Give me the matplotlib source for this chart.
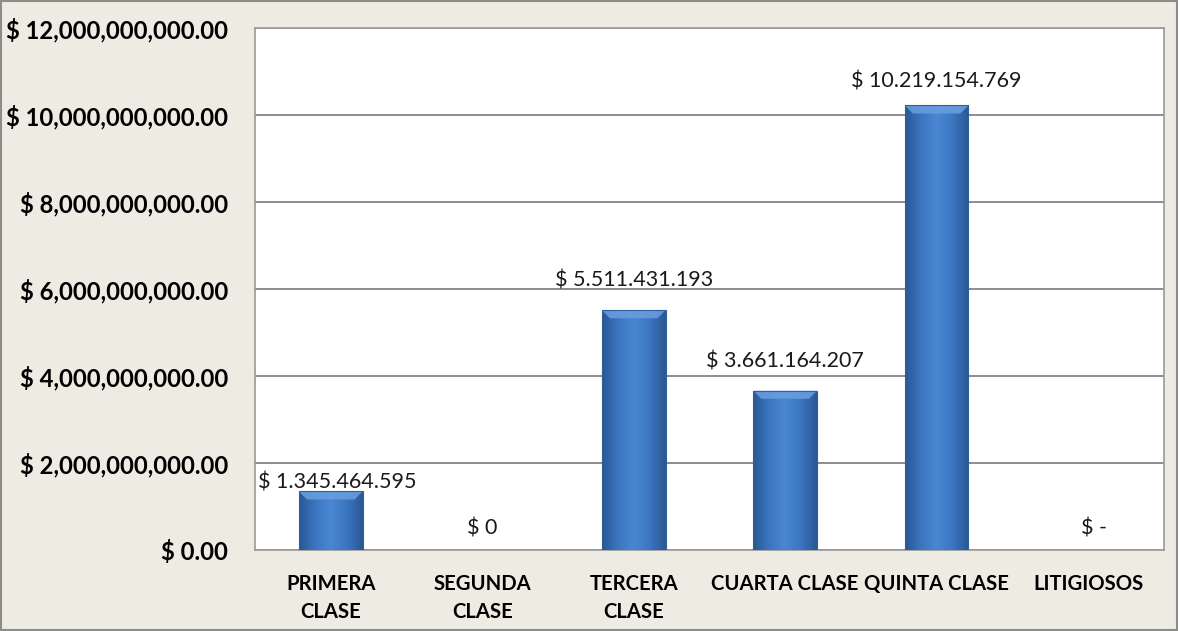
import numpy as np
import matplotlib.pyplot as plt
from matplotlib.colors import LinearSegmentedColormap
from matplotlib.ticker import FuncFormatter

categories = ['PRIMERA\nCLASE', 'SEGUNDA\nCLASE', 'TERCERA\nCLASE',
              'CUARTA CLASE', 'QUINTA CLASE', 'LITIGIOSOS']
values = [1345464595, 0, 5511431193, 3661164207, 10219154769, 0]
value_labels = ['$ 1.345.464.595', '$ 0', '$ 5.511.431.193',
                '$ 3.661.164.207', '$ 10.219.154.769', '$ -']
yticks = [0, 2e9, 4e9, 6e9, 8e9, 10e9, 12e9]

plt.rcParams['font.family'] = ['Lato', 'DejaVu Sans']

bg = '#EEEBE2'
fig = plt.figure(figsize=(11.78, 6.31), dpi=100, facecolor=bg)
ax = fig.add_axes([0.2165, 0.1284, 0.7715, 0.8272])
ax.set_facecolor('white')

x = np.arange(len(categories))
bars = ax.bar(x, values, width=0.42, color='none', zorder=3)

ax.set_xlim(-0.5, len(categories) - 0.5)
ax.set_ylim(0, 12e9)

# size of the top bevel in data units (about 8 px)
p0 = ax.transData.inverted().transform((0, 0))
p1 = ax.transData.inverted().transform((8, 8))
bx, by = p1 - p0

# horizontal gradient, darker at the edges, lighter in the middle
cmap = LinearSegmentedColormap.from_list(
    'bar', ['#2A5894', '#3C76C2', '#4A86D2', '#3C76C2', '#2A5894'])
grad = np.linspace(0, 1, 64).reshape(1, -1)
for b in bars:
    if b.get_height() <= 0:
        continue
    x0, w, h = b.get_x(), b.get_width(), b.get_height()
    im = ax.imshow(grad, cmap=cmap, aspect='auto', zorder=3,
                   extent=[x0, x0 + w, 0, h], interpolation='bicubic')
    im.set_clip_path(b)
    ax.add_patch(plt.Polygon([(x0, h), (x0 + w, h), (x0 + w - bx, h - by),
                              (x0 + bx, h - by)], closed=True,
                             fc='#6A9FE0', ec='none', alpha=0.85, zorder=4))
    ax.add_patch(plt.Rectangle((x0, 0), w, h, fill=False,
                               ec='#2F5F9C', lw=0.8, zorder=5))

ax.set_yticks(yticks)
ax.yaxis.set_major_formatter(FuncFormatter(lambda v, p: f'$ {v:,.2f}'))
ax.grid(axis='y', color='#8C8C8C', lw=1.4, zorder=1)
ax.set_axisbelow(True)

ax.set_xticks(x)
ax.set_xticklabels(categories, fontweight='bold', fontsize=14.6,
                   linespacing=1.5, va='top')
for lbl in ax.get_yticklabels():
    lbl.set_fontweight('bold')
    lbl.set_fontsize(17.2)
ax.tick_params(axis='both', length=0)
ax.tick_params(axis='x', pad=17)
ax.tick_params(axis='y', pad=19.5)

for s in ax.spines.values():
    s.set_color('#9A9A9A')
    s.set_linewidth(1.2)

# label offsets in points (x, y)
offsets = [(5, -1), (0, 8), (0, 14), (0, 14), (0, 10), (4, 8)]
for xi, v, lab, off in zip(x, values, value_labels, offsets):
    ax.annotate(lab, (xi, v), xytext=off, textcoords='offset points',
                ha='center', va='bottom', fontsize=15.5, color='#1A1A1A')

fig.patches.append(plt.Rectangle((0.001, 0.002), 0.998, 0.996,
                                 transform=fig.transFigure, fill=False,
                                 ec='#8C8C8C', lw=1.5))

fig.savefig('out.png', dpi=100, facecolor=bg)
